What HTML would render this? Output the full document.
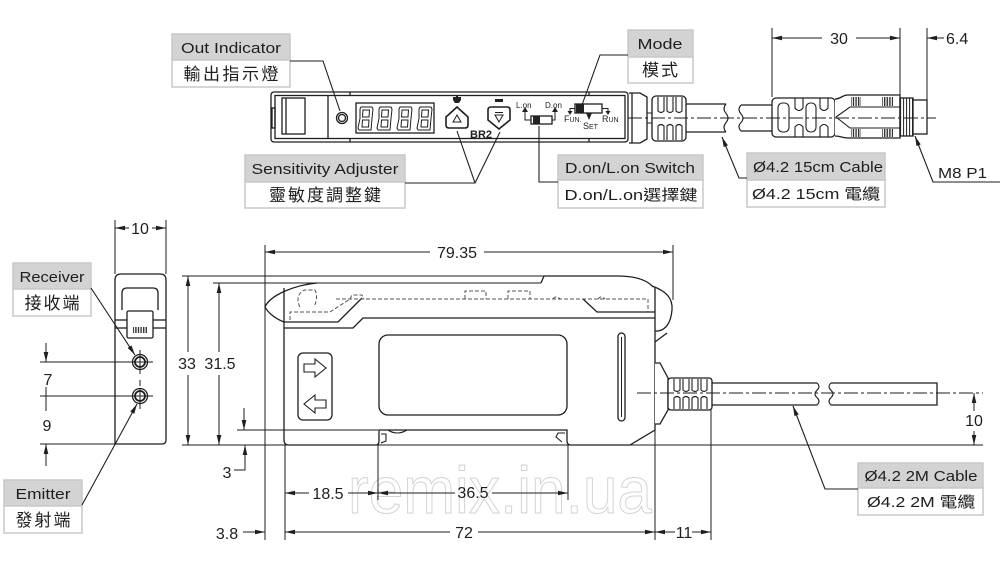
<!DOCTYPE html>
<html><head><meta charset="utf-8">
<style>
html,body{margin:0;padding:0;background:#fff;}
svg{display:block;}
text{font-family:"Liberation Sans","Noto Sans CJK TC",sans-serif;fill:#1e1e1e;}
</style></head><body>
<svg width="1000" height="565" viewBox="0 0 1000 565" xmlns="http://www.w3.org/2000/svg">
<defs>
<marker id="ar" viewBox="0 0 10 6" refX="10" refY="3" markerWidth="10" markerHeight="6" orient="auto-start-reverse" markerUnits="userSpaceOnUse"><path d="M0,0.7 L10,3 L0,5.3 Z" fill="#1e1e1e"/></marker>
<pattern id="rib" width="2.6" height="4" patternUnits="userSpaceOnUse"><rect width="1.4" height="4" fill="#333"/></pattern>
<pattern id="thr" width="3" height="4" patternUnits="userSpaceOnUse"><rect width="1.1" height="4" fill="#333"/></pattern>
</defs>

<!-- watermark -->
<text x="500" y="513" font-size="66" fill="none" stroke="#d2d2d2" stroke-width="1" text-anchor="middle" textLength="304" lengthAdjust="spacingAndGlyphs" style="fill:none">remix.in.ua</text>

<!-- ============ LABEL BOXES ============ -->
<g stroke="#c8c8c8" stroke-width="1.5">
<rect x="172" y="34" width="118" height="26" fill="#d3d3d3"/><rect x="172" y="60" width="118" height="27" fill="#fff"/>
<rect x="245" y="155" width="160" height="27" fill="#d3d3d3"/><rect x="245" y="182" width="160" height="26" fill="#fff"/>
<rect x="628" y="30" width="65" height="27" fill="#d3d3d3"/><rect x="628" y="57" width="65" height="26" fill="#fff"/>
<rect x="558" y="155" width="145" height="25" fill="#d3d3d3"/><rect x="558" y="180" width="145" height="28" fill="#fff"/>
<rect x="747" y="153" width="138" height="27" fill="#d3d3d3"/><rect x="747" y="180" width="138" height="27" fill="#fff"/>
<rect x="13" y="263" width="78" height="26" fill="#d3d3d3"/><rect x="13" y="289" width="78" height="27" fill="#fff"/>
<rect x="4" y="480" width="78" height="26" fill="#d3d3d3"/><rect x="4" y="506" width="78" height="27" fill="#fff"/>
<rect x="858" y="463" width="125" height="25" fill="#d3d3d3"/><rect x="858" y="488" width="125" height="27" fill="#fff"/>
</g>
<g font-size="15">
<text x="231" y="53" text-anchor="middle" textLength="100" lengthAdjust="spacingAndGlyphs">Out Indicator</text>
<text x="231" y="80" text-anchor="middle" font-size="17" textLength="95" lengthAdjust="spacing">輸出指示燈</text>
<text x="325" y="174" text-anchor="middle" textLength="147" lengthAdjust="spacingAndGlyphs">Sensitivity Adjuster</text>
<text x="325" y="201" text-anchor="middle" font-size="17" textLength="112" lengthAdjust="spacing">靈敏度調整鍵</text>
<text x="660" y="49" text-anchor="middle" textLength="45" lengthAdjust="spacingAndGlyphs">Mode</text>
<text x="660" y="76" text-anchor="middle" font-size="17" textLength="36" lengthAdjust="spacing">模式</text>
<text x="630" y="173" text-anchor="middle" textLength="130" lengthAdjust="spacingAndGlyphs">D.on/L.on Switch</text>
<text x="631" y="200" text-anchor="middle" textLength="133" lengthAdjust="spacingAndGlyphs">D.on/L.on選擇鍵</text>
<text x="818" y="172" text-anchor="middle" textLength="130" lengthAdjust="spacingAndGlyphs">Ø4.2 15cm Cable</text>
<text x="816" y="199" text-anchor="middle" textLength="128" lengthAdjust="spacingAndGlyphs">Ø4.2 15cm 電纜</text>
<text x="52" y="282" text-anchor="middle" textLength="65" lengthAdjust="spacingAndGlyphs">Receiver</text>
<text x="52" y="309" text-anchor="middle" font-size="17" textLength="55" lengthAdjust="spacing">接收端</text>
<text x="43" y="499" text-anchor="middle" textLength="55" lengthAdjust="spacingAndGlyphs">Emitter</text>
<text x="43" y="526" text-anchor="middle" font-size="17" textLength="55" lengthAdjust="spacing">發射端</text>
<text x="921" y="481" text-anchor="middle" textLength="113" lengthAdjust="spacingAndGlyphs">Ø4.2 2M Cable</text>
<text x="921" y="507" text-anchor="middle" textLength="108" lengthAdjust="spacingAndGlyphs">Ø4.2 2M 電纜</text>
<text x="938" y="178" textLength="49" lengthAdjust="spacingAndGlyphs">M8 P1</text>
</g>

<!-- ============ TOP VIEW DEVICE ============ -->
<g fill="none" stroke="#1e1e1e" stroke-width="1.3">
<rect x="271" y="92" width="357" height="50" rx="3" fill="#fff"/>
<rect x="275" y="95.5" width="350" height="43" />
<rect x="282" y="98" width="23" height="36"/>
<line x1="286" y1="98" x2="286" y2="134"/>
<rect x="272" y="108" width="3" height="20"/>
<line x1="328" y1="96" x2="328" y2="138"/>
<line x1="350" y1="92" x2="350" y2="96"/><line x1="350" y1="138" x2="350" y2="142"/>
<line x1="589" y1="92" x2="589" y2="96"/><line x1="589" y1="138" x2="589" y2="142"/>
<circle cx="342" cy="118" r="5.5"/><circle cx="342" cy="118" r="3.5"/>
<rect x="356" y="103" width="78" height="30"/>
<g stroke-width="1">
<path d="M361,107 L372,107 L373,109 L372,118.5 L371,130 L359,130 L358,128 L360,118.5 L360,109 Z"/><path d="M363,110 L369.5,110 L369,117 L362.5,117 Z M362.5,120 L369,120 L368.5,127 L362,127 Z"/>
<path d="M380,107 L391,107 L392,109 L391,118.5 L390,130 L378,130 L377,128 L379,118.5 L379,109 Z"/><path d="M382,110 L388.5,110 L388,117 L381.5,117 Z M381.5,120 L388,120 L387.5,127 L381,127 Z"/>
<path d="M400,107 L411,107 L412,109 L411,118.5 L410,130 L398,130 L397,128 L399,118.5 L399,109 Z"/><path d="M402,110 L408.5,110 L408,117 L401.5,117 Z M401.5,120 L408,120 L407.5,127 L401,127 Z"/>
<path d="M420,107 L431,107 L432,109 L431,118.5 L430,130 L418,130 L417,128 L419,118.5 L419,109 Z"/><path d="M422,110 L428.5,110 L428,117 L421.5,117 Z M421.5,120 L428,120 L427.5,127 L421,127 Z"/>
</g>
<path d="M446,117 L457,107 L468,117 L468,125 Q468,128 465,128 L449,128 Q446,128 446,125 Z" stroke-width="1.6"/>
<path d="M453,122 L457,115 L461,122 Z" stroke-width="1"/>
<path d="M488,110 Q488,107 491,107 L507,107 Q510,107 510,110 L510,120 L499,129 L488,120 Z" stroke-width="1.6"/>
<path d="M495,115 L503,115 L499,122 Z" stroke-width="1"/><line x1="495" y1="112.5" x2="503" y2="112.5" stroke-width="1"/>
<rect x="531" y="116" width="21" height="8"/>
<path d="M531,120 L525,120 L525,111 M552,120 L555,120 L555,111" stroke-width="1"/>
<rect x="575" y="104" width="27" height="9"/>
<path d="M575,108.5 L570,108.5 L570,113 M602,108.5 L608,108.5 L608,113" stroke-width="1"/>
<path d="M629,93 L640,93 L647,97 L647,139 L640,143 L629,143" fill="#fff"/>
<line x1="632" y1="93" x2="632" y2="143"/>
<path d="M647,113 L653,113 M647,123 L653,123" stroke-width="1"/>
<rect x="652" y="96" width="34" height="45" rx="4" fill="#fff"/>
<path d="M658,97 L658,111 Q661,114 664,111 L664,97 M667,97 L667,111 Q670,114 673,111 L673,97 M676,97 L676,111 Q679,114 682,111 L682,97" stroke-width="1.1"/>
<path d="M658,140 L658,126 Q661,123 664,126 L664,140 M667,140 L667,126 Q670,123 673,126 L673,140 M676,140 L676,126 Q679,123 682,126 L682,140" stroke-width="1.1"/>
<path d="M686,104 L726,104 M686,132 L726,132"/>
<path d="M726,104 q-4,4.7 0,9.3 q4,4.7 0,9.3 q-4,4.7 0,9.4" stroke-width="1.1"/>
<path d="M741,105 q-4,4.5 0,9 q4,4.5 0,8.5 q-4,4 0,8.5" stroke-width="1.1"/>
<path d="M741,105 L772,105 M741,131 L772,131"/>
<rect x="772" y="98" width="63" height="39" rx="4" fill="#fff"/>
<rect x="778" y="103" width="11" height="29" rx="4.5" stroke-width="1.1"/>
<rect x="806" y="103" width="10" height="29" rx="4.5" stroke-width="1.1"/>
<path d="M795,98 L795,108 Q799,113 803,108 L803,98 M820,98 L820,108 Q824,113 828,108 L828,98" stroke-width="1.1"/>
<path d="M795,137 L795,127 Q799,122 803,127 L803,137 M820,137 L820,127 Q824,122 828,127 L828,137" stroke-width="1.1"/>
<path d="M835,99 C841,99 842,95 848,95 L900,95 L900,138 L848,138 C842,138 841,136 835,136" fill="#fff"/>
<path d="M836,117 L850,107 L900,107 M836,117 L850,128 L900,128" stroke-width="1.1"/>
</g>
<g stroke="none">
<rect x="851" y="97" width="10" height="9" fill="url(#rib)"/><rect x="851" y="129" width="10" height="8" fill="url(#rib)"/>
<rect x="882" y="97" width="11" height="9" fill="url(#rib)"/><rect x="882" y="129" width="11" height="8" fill="url(#rib)"/>
<rect x="576" y="104.5" width="8" height="8" fill="#222"/>
<rect x="533" y="116.5" width="7" height="7" fill="#222"/>
<path d="M453,97 L461,97 L461,100 L459,103 L455,103 L453,100 Z M456,95 L458,95 L458,98 L456,98 Z" fill="#222"/>
<rect x="495" y="99" width="8" height="3" fill="#222"/>
<path d="M522,112 L525,107 L528,112 Z M552,112 L555,107 L558,112 Z M567.5,111 L572.5,111 L570,115 Z M605.5,111 L610.5,111 L608,115 Z M586,113 L592,113 L589,120 Z" fill="#222"/>
</g>
<g fill="none" stroke="#1e1e1e" stroke-width="1.3">
<rect x="900" y="98" width="13" height="38" fill="url(#thr)"/>
<rect x="913" y="100" width="14" height="34" fill="#fff"/>
</g>
<text x="470" y="138" font-size="11" font-weight="bold">BR2</text>
<text x="516" y="108" font-size="8">L.on</text>
<text x="545" y="108" font-size="8">D.on</text>
<text x="564" y="122" font-size="9">F<tspan font-size="7">UN.</tspan></text>
<text x="583" y="129" font-size="9">S<tspan font-size="7">ET</tspan></text>
<text x="602" y="122" font-size="9">R<tspan font-size="7">UN</tspan></text>
<line x1="628" y1="118" x2="936" y2="118" stroke="#1e1e1e" stroke-width="0.9" stroke-dasharray="14 3 3 3"/>

<g stroke="#1e1e1e" stroke-width="1" fill="none">
<line x1="772" y1="28" x2="772" y2="97"/><line x1="900" y1="28" x2="900" y2="95"/><line x1="927" y1="28" x2="927" y2="100"/>
<line x1="822" y1="38" x2="772" y2="38" marker-end="url(#ar)"/>
<line x1="856" y1="38" x2="900" y2="38" marker-end="url(#ar)"/>
<line x1="944" y1="38" x2="927" y2="38" marker-end="url(#ar)"/>
</g>
<text x="839" y="44" font-size="16" text-anchor="middle">30</text>
<text x="946" y="44" font-size="16">6.4</text>

<!-- ============ LEFT SIDE VIEW ============ -->
<g fill="none" stroke="#1e1e1e" stroke-width="1.3">
<path d="M115,444 L115,280 Q115,274 121,274 L160,274 Q166,274 166,280 L166,440 Q166,444 162,444 Z" fill="#fff"/>
<path d="M122,310 L122,293 Q122,288 127,288 L153,288 Q158,288 158,293 L158,310"/>
<line x1="115" y1="320" x2="127" y2="320"/><line x1="153" y1="320" x2="166" y2="320"/>
<line x1="115" y1="328" x2="127" y2="328"/><line x1="153" y1="328" x2="166" y2="328"/>
<rect x="127" y="311" width="26" height="27" rx="1.5" fill="#fff"/>
<circle cx="140" cy="362" r="7.5"/><circle cx="140" cy="362" r="5" stroke-width="1.8"/>
<circle cx="140" cy="396" r="7.5"/><circle cx="140" cy="396" r="5" stroke-width="1.8"/>
</g>
<rect x="133" y="327" width="14" height="6" fill="url(#rib)"/>
<g stroke="#1e1e1e" stroke-width="1" fill="none">
<line x1="140" y1="350" x2="140" y2="374"/><line x1="140" y1="380" x2="140" y2="386"/><line x1="140" y1="388" x2="140" y2="409"/>
<line x1="40" y1="362" x2="153" y2="362"/><line x1="40" y1="396" x2="153" y2="396"/>
<line x1="40" y1="444" x2="115" y2="444"/>
<line x1="46" y1="343" x2="46" y2="362" marker-end="url(#ar)"/>
<line x1="46" y1="387" x2="46" y2="411"/>
<line x1="46" y1="466" x2="46" y2="444" marker-end="url(#ar)"/>
<line x1="115" y1="220" x2="115" y2="274"/><line x1="166" y1="220" x2="166" y2="274"/>
<line x1="129" y1="228" x2="115" y2="228" marker-end="url(#ar)"/>
<line x1="152" y1="228" x2="166" y2="228" marker-end="url(#ar)"/>
</g>
<text x="140" y="234" font-size="16" text-anchor="middle">10</text>
<text x="48" y="385" font-size="16" text-anchor="middle">7</text>
<text x="47" y="431" font-size="16" text-anchor="middle">9</text>

<!-- ============ MAIN SIDE VIEW ============ -->
<g stroke="#1e1e1e" stroke-width="1" fill="none">
<line x1="182" y1="276" x2="544" y2="276"/>
<line x1="213" y1="283" x2="541" y2="283"/>
<line x1="182" y1="445" x2="983" y2="445"/>
<line x1="188" y1="352" x2="188" y2="276" marker-end="url(#ar)"/>
<line x1="188" y1="375" x2="188" y2="445" marker-end="url(#ar)"/>
<line x1="219" y1="352" x2="219" y2="283" marker-end="url(#ar)"/>
<line x1="219" y1="375" x2="219" y2="445" marker-end="url(#ar)"/>
<line x1="265" y1="245" x2="265" y2="540"/>
<line x1="673" y1="245" x2="673" y2="300"/>
<line x1="430" y1="252" x2="265" y2="252" marker-end="url(#ar)"/>
<line x1="484" y1="252" x2="673" y2="252" marker-end="url(#ar)"/>
<line x1="237" y1="430" x2="378" y2="430"/>
<line x1="244" y1="408" x2="244" y2="430" marker-end="url(#ar)"/>
<path d="M234,470 L245,470 L245,445" marker-end="url(#ar)"/>
<line x1="243" y1="532" x2="265" y2="532" marker-end="url(#ar)"/>
<line x1="285" y1="445" x2="285" y2="540"/>
<line x1="378" y1="445" x2="378" y2="500"/>
<line x1="568" y1="445" x2="568" y2="500"/>
<line x1="655" y1="430" x2="655" y2="540"/>
<line x1="711" y1="410" x2="711" y2="540"/>
<line x1="309" y1="493" x2="285" y2="493" marker-end="url(#ar)"/>
<line x1="348" y1="493" x2="378" y2="493" marker-end="url(#ar)"/>
<line x1="455" y1="493" x2="378" y2="493" marker-end="url(#ar)"/>
<line x1="492" y1="493" x2="568" y2="493" marker-end="url(#ar)"/>
<line x1="450" y1="532" x2="285" y2="532" marker-end="url(#ar)"/>
<line x1="478" y1="532" x2="655" y2="532" marker-end="url(#ar)"/>
<line x1="675" y1="532" x2="655" y2="532" marker-end="url(#ar)"/>
<line x1="692" y1="532" x2="711" y2="532" marker-end="url(#ar)"/>
<line x1="974" y1="411" x2="974" y2="393" marker-end="url(#ar)"/>
<line x1="974" y1="431" x2="974" y2="445" marker-end="url(#ar)"/>
</g>
<g font-size="16" text-anchor="middle">
<text x="187" y="369">33</text>
<text x="220" y="369">31.5</text>
<text x="457" y="258">79.35</text>
<text x="227" y="478">3</text>
<text x="227" y="539">3.8</text>
<text x="328" y="499">18.5</text>
<text x="473" y="498">36.5</text>
<text x="464" y="538">72</text>
<text x="684" y="538">11</text>
<text x="974" y="426">10</text>
</g>

<g fill="none" stroke="#1e1e1e" stroke-width="1.3">
<path d="M317,283 C295,285 270,295 265,307 C268,313 276,319 284,322"/>
<line x1="541" y1="283" x2="544" y2="276"/>
<path d="M544,276 L617,276 C635,276 647,280 653,287"/>
<path d="M652,286 C666,291 673,298 672,310 C671,322 666,330 658,331 L655,331"/>
<path d="M655,342 L667,333"/>
<path d="M284,288 L284,440 Q284,445 289,445 L376,445 Q379,445 379,441 L379,430 L567,430 L567,441 Q567,445 571,445 L630,445 L655,430 L655,287"/>
<path d="M381,434 L386,434 L386,441 L381,443" stroke-width="1.1"/>
<path d="M565,433 L558,433 L556,437 L562,442" stroke-width="1.1"/>
<path d="M388,430 Q397,436 407,430" stroke-width="1.1"/>
<path d="M284,322 L338,322 L362,298"/>
<path d="M284,328 L353,328 L363,318 L655,318"/>
<path d="M583,299 L597,312 L655,312"/>
<rect x="379" y="335" width="188" height="80" rx="9"/>
<rect x="298" y="353" width="34" height="67" rx="5"/>
<path d="M304,364 L315,364 L315,359 L326,368 L315,377 L315,372 L304,372 Z" stroke-width="1.1"/>
<path d="M326,400 L315,400 L315,395 L304,404 L315,413 L315,408 L326,408 Z" stroke-width="1.1"/>
<rect x="618" y="333" width="7" height="88" rx="3.5"/>
<line x1="621.5" y1="337" x2="621.5" y2="417" stroke-width="1"/>
</g>
<g fill="none" stroke="#555" stroke-width="1" stroke-dasharray="4 2">
<path d="M336,299 L648,299 L648,312"/>
<path d="M290,320 L290,312 L330,312 L350,299"/>
<path d="M300,307 C296,300 298,292 305,290 L315,290 C318,296 316,303 314,307"/>
<path d="M465,299 L465,291 L486,291 L486,299 M508,299 L508,291 L530,291 L530,299"/>
<path d="M350,299 L352,295 L362,295 L364,299 M553,299 Q556,295 560,299 M598,299 Q601,295 605,299"/>
</g>
<g fill="#fff" stroke="#1e1e1e" stroke-width="1.3">
<path d="M655,363 L660,363 L668,378 L668,410 L660,424 L655,424"/>
<rect x="668" y="378" width="44" height="32" rx="3"/>
</g>
<g fill="none" stroke="#1e1e1e" stroke-width="1.1">
<path d="M674,379 L674,390 Q677,393 680,390 L680,379 M683,379 L683,390 Q686,393 689,390 L689,379 M692,379 L692,390 Q695,393 698,390 L698,379 M701,379 L701,390 Q704,393 707,390 L707,379"/>
<path d="M674,409 L674,398 Q677,395 680,398 L680,409 M683,409 L683,398 Q686,395 689,398 L689,409 M692,409 L692,398 Q695,395 698,398 L698,409 M701,409 L701,398 Q704,395 707,398 L707,409"/>
<path d="M712,383 L817,383 M712,405 L817,405" stroke-width="1.3"/>
<path d="M817,383 q4,3.7 0,7.3 q-4,3.7 0,7.3 q4,3.7 0,7.4"/>
<path d="M831,383 q-4,3.7 0,7.3 q4,3.7 0,7.3 q-4,3.7 0,7.4"/>
<path d="M831,383 L937,383 L937,405 L831,405" stroke-width="1.3"/>
</g>
<line x1="637" y1="393" x2="983" y2="393" stroke="#1e1e1e" stroke-width="0.9" stroke-dasharray="14 3 3 3"/>

<!-- ============ LEADERS (on top) ============ -->
<g fill="none" stroke="#1e1e1e" stroke-width="1.1">
<path d="M290,61 L323,61 L340,111"/>
<path d="M405,183 L475,183 L457,131 M475,183 L500,132"/>
<path d="M628,55 L600,55 L582,105"/>
<path d="M539,126 L539,182 L558,182"/>
<path d="M747,178 L739,178 L722,137" marker-end="url(#ar)"/>
<path d="M1000,182 L933,182 L915,136" marker-end="url(#ar)"/>
<path d="M91,288 L135,355" marker-end="url(#ar)"/>
<path d="M82,505 L137,404" marker-end="url(#ar)"/>
<path d="M858,489 L825,489 L793,406" marker-end="url(#ar)"/>
</g>
</svg>
</body></html>
